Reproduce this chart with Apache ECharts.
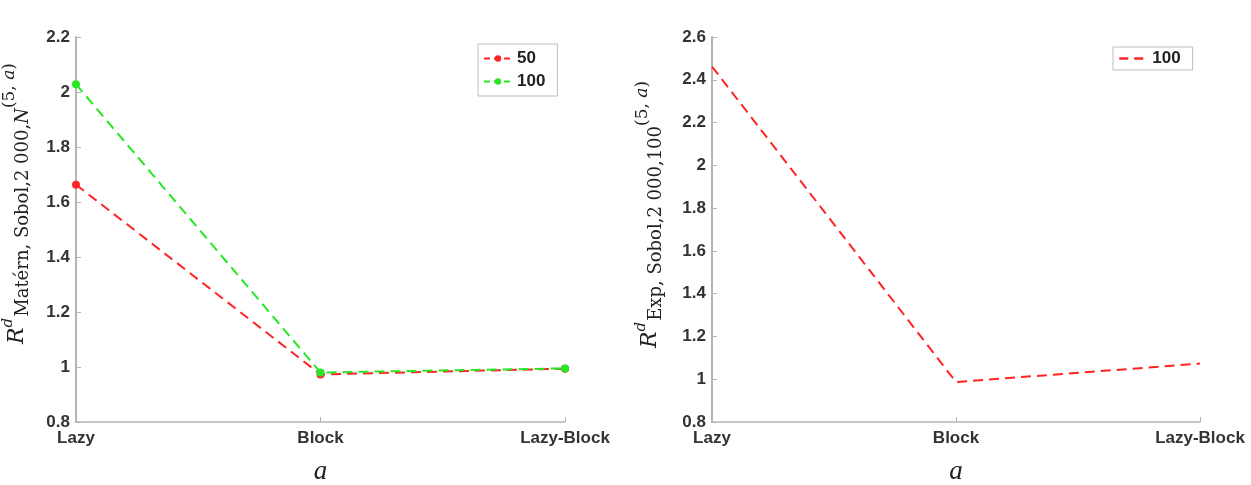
<!DOCTYPE html>
<html>
<head>
<meta charset="utf-8">
<script src="https://cdn.jsdelivr.net/npm/echarts@6/dist/echarts.min.js"></script>
<style>
html,body{margin:0;padding:0;background:#fff;}
#chart{width:1251px;height:485px;}
</style>
</head>
<body>
<div id="chart"></div>
<script>
const categories = ['Lazy', 'Block', 'Lazy-Block'];
const maternN50 = [1.663, 0.973, 0.994];
const maternN100 = [2.028, 0.980, 0.995];
const exp100 = [2.462, 0.987, 1.073];
const legendLeft = ['50', '100'];
const legendRight = ['100'];

const RED = '#ff2424';
const GREEN = '#24e824';
const AXIS = '#b4b4b4';
const TICKFONT = { fontFamily: 'Liberation Sans', fontWeight: 'bold', fontSize: 17, color: '#333333' };

function labelRich(shift) {
  return {
    R: { fontFamily: 'DejaVu Serif', fontStyle: 'italic', fontSize: 22, color: '#222' },
    sup: { fontFamily: 'DejaVu Serif', fontStyle: 'italic', fontSize: 15, color: '#222', padding: [0, 1, 18, 0] },
    sub: { fontFamily: 'DejaVu Serif', fontSize: 18, color: '#222', padding: [12, 0, 0, 0] },
    subi: { fontFamily: 'DejaVu Serif', fontStyle: 'italic', fontSize: 18, color: '#222', padding: [12, 0, 0, 0] },
    up: { fontFamily: 'DejaVu Serif', fontSize: 17, color: '#222', padding: [0, 0, 16, 0] },
    upi: { fontFamily: 'DejaVu Serif', fontStyle: 'italic', fontSize: 17, color: '#222', padding: [0, 0, 16, 0] }
  };
}

function yAxisCfg(gridIndex, max, name, gap, shift) {
  return {
    type: 'value', gridIndex: gridIndex, min: 0.8, max: max, interval: 0.2,
    name: name, nameLocation: 'middle', nameGap: gap, nameRotate: 90,
    nameTextStyle: { rich: labelRich(shift), padding: [0, 0, 0, shift] },
    axisLine: { show: true, lineStyle: { color: AXIS, width: 2 } },
    axisTick: { show: true, inside: true, length: 5, lineStyle: { color: AXIS } },
    axisLabel: Object.assign({ margin: 6 }, TICKFONT),
    splitLine: { show: false }
  };
}
function xAxisCfg(gridIndex) {
  return {
    type: 'category', gridIndex: gridIndex, data: categories, boundaryGap: false,
    name: 'a', nameLocation: 'middle', nameGap: 36,
    nameTextStyle: { fontFamily: 'Liberation Serif', fontStyle: 'italic', fontSize: 27, color: '#222' },
    axisLine: { show: true, lineStyle: { color: AXIS, width: 1.5 } },
    axisTick: { show: true, inside: true, length: 5, lineStyle: { color: AXIS } },
    axisLabel: Object.assign({ margin: 8 }, TICKFONT),
    splitLine: { show: false }
  };
}

const legendText = { fontFamily: 'Liberation Sans', fontWeight: 'bold', fontSize: 17, color: '#222' };

const chart = echarts.init(document.getElementById('chart'), null, { renderer: 'canvas' });
chart.setOption({
  animation: false,
  backgroundColor: '#ffffff',
  grid: [
    { left: 76, top: 37, width: 489, height: 385, containLabel: false, outerBoundsMode: 'none' },
    { left: 712, top: 37, width: 488, height: 385, containLabel: false, outerBoundsMode: 'none' }
  ],
  xAxis: [xAxisCfg(0), xAxisCfg(1)],
  yAxis: [
    yAxisCfg(0, 2.2, '{R|R}{sup|d}{sub|Matérn, Sobol,2 000,}{subi|N}{up|(5, }{upi|a}{up|)}', 42, 52),
    yAxisCfg(1, 2.6, '{R|R}{sup|d}{sub|Exp, Sobol,2 000,100}{up|(5, }{upi|a}{up|)}', 45, 30)
  ],
  legend: [
    {
      data: legendLeft, orient: 'vertical', left: 478, top: 44,
      padding: [6, 12, 6, 5], itemGap: 6, itemWidth: 28, itemHeight: 8,
      borderColor: '#bdbdbd', borderWidth: 1,
      lineStyle: { type: [6, 4], width: 2 },
      textStyle: legendText
    },
    {
      data: ['exp-100'], orient: 'vertical', left: 1113, top: 47,
      padding: [3, 12, 3, 5], itemWidth: 28, itemHeight: 8,
      borderColor: '#bdbdbd', borderWidth: 1,
      itemStyle: { opacity: 0 },
      lineStyle: { type: [9, 6], width: 2.5 },
      formatter: function () { return legendRight[0]; },
      textStyle: legendText
    }
  ],
  series: [
    {
      name: legendLeft[0], type: 'line', xAxisIndex: 0, yAxisIndex: 0, data: maternN50,
      symbol: 'circle', symbolSize: 8, color: RED,
      lineStyle: { color: RED, width: 2, type: [10, 6] }, itemStyle: { color: RED }
    },
    {
      name: legendLeft[1], type: 'line', xAxisIndex: 0, yAxisIndex: 0, data: maternN100,
      symbol: 'circle', symbolSize: 8, color: GREEN,
      lineStyle: { color: GREEN, width: 2, type: [10, 6] }, itemStyle: { color: GREEN }
    },
    {
      name: 'exp-100', type: 'line', xAxisIndex: 1, yAxisIndex: 1, data: exp100,
      symbol: 'none', color: RED,
      lineStyle: { color: RED, width: 2, type: [10, 6] }, itemStyle: { color: RED }
    }
  ]
});
</script>
</body>
</html>
